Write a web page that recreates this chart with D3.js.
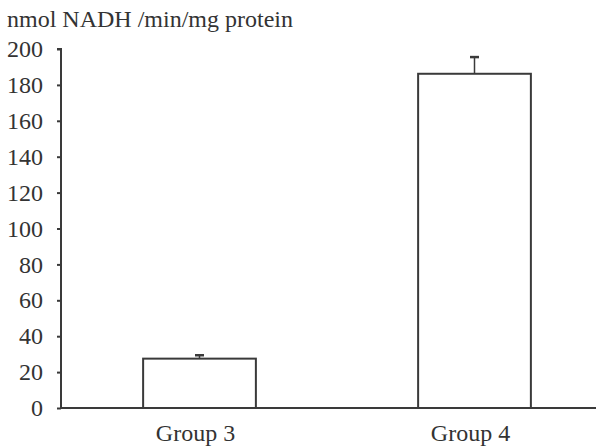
<!DOCTYPE html>
<html>
<head>
<meta charset="utf-8">
<script src="https://cdn.jsdelivr.net/npm/d3@7"></script>
<style>
  body { margin: 0; background: #fff; }
  text { font-family: "Liberation Serif", "Times New Roman", serif; fill: #333; }
</style>
</head>
<body>
<div id="container"></div>
<script>
let w = 596;
let h = 446;

// values
let groups = ["Group 3", "Group 4"];
let means = [27.5, 186.2];
let errors = [1.9, 9.3];
let yTicks = [0, 20, 40, 60, 80, 100, 120, 140, 160, 180, 200];
let yLabel = "nmol NADH /min/mg protein";

let ink = "#3a3a3a";

let viz = d3.select("#container")
  .append("svg")
    .attr("width", w)
    .attr("height", h)
    .style("background-color", "#fff");

let data = groups.map(function(g, i){
  return { name: g, value: means[i], err: errors[i] };
});

let left = 61;
let yScale = d3.scaleLinear().domain([0, 200]).range([408, 49]);
let xScale = d3.scaleBand().domain(groups).range([62, 612])
  .paddingInner(0.59).paddingOuter(0.295);

// y axis
let yAxis = d3.axisLeft(yScale).tickValues(yTicks).tickSize(4).tickPadding(14);
let yAxisGroup = viz.append("g").attr("class", "yaxis")
  .attr("transform", "translate(" + left + ",0)")
  .call(yAxis);
yAxisGroup.select(".domain").attr("stroke", ink).attr("stroke-width", 2)
  .attr("d", "M-4," + yScale(200) + "H0V" + yScale(0));
yAxisGroup.selectAll(".tick line").attr("stroke", ink).attr("stroke-width", 2);
yAxisGroup.selectAll(".tick text")
  .style("font-size", "24px")
  .attr("fill", "#333");

// title
viz.append("text")
  .attr("x", 7)
  .attr("y", 27)
  .style("font-size", "24px")
  .text(yLabel);

// bars
let bars = viz.append("g").attr("class", "bars");
bars.selectAll("rect").data(data).enter().append("rect")
  .attr("x", function(d){ return xScale(d.name); })
  .attr("y", function(d){ return yScale(d.value); })
  .attr("width", xScale.bandwidth())
  .attr("height", function(d){ return yScale(0) - yScale(d.value); })
  .attr("fill", "#fff")
  .attr("stroke", ink)
  .attr("stroke-width", 2);

// error bars (upper only)
let errs = viz.append("g").attr("class", "errs");
errs.selectAll("line.v").data(data).enter().append("line")
  .attr("class", "v")
  .attr("x1", function(d){ return xScale(d.name) + xScale.bandwidth() / 2; })
  .attr("x2", function(d){ return xScale(d.name) + xScale.bandwidth() / 2; })
  .attr("y1", function(d){ return yScale(d.value); })
  .attr("y2", function(d){ return yScale(d.value + d.err); })
  .attr("stroke", ink)
  .attr("stroke-width", 1.5);
errs.selectAll("line.c").data(data).enter().append("line")
  .attr("class", "c")
  .attr("x1", function(d){ return xScale(d.name) + xScale.bandwidth() / 2 - 4.5; })
  .attr("x2", function(d){ return xScale(d.name) + xScale.bandwidth() / 2 + 4.5; })
  .attr("y1", function(d){ return yScale(d.value + d.err); })
  .attr("y2", function(d){ return yScale(d.value + d.err); })
  .attr("stroke", ink)
  .attr("stroke-width", 2.5);

// x axis
let xAxis = d3.axisBottom(xScale).tickSize(0).tickPadding(16);
let xAxisGroup = viz.append("g").attr("class", "xaxis")
  .attr("transform", "translate(0," + yScale(0) + ")")
  .call(xAxis);
xAxisGroup.select(".domain").attr("stroke", ink).attr("stroke-width", 2)
  .attr("d", "M" + left + ",0H" + w);
xAxisGroup.selectAll(".tick text")
  .attr("dx", -4)
  .style("font-size", "24px")
  .attr("fill", "#333");
</script>
</body>
</html>
